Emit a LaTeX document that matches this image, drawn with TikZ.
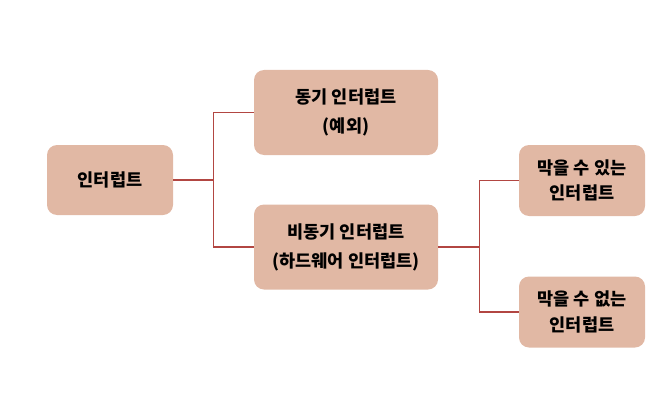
\documentclass[tikz,border=0pt]{standalone}
\usepackage{fontspec}
\setmainfont{Noto Sans CJK KR}
\usetikzlibrary{positioning}
\definecolor{boxfill}{RGB}{225,184,164}
\definecolor{linkred}{RGB}{178,70,66}

\begin{document}
\begin{tikzpicture}[x=1pt, y=1pt,
        box/.style={rectangle, rounded corners=10pt, fill=boxfill, align=center,
                    font=\fontsize{17.5}{29}\selectfont\bfseries},
        mid/.style={box, minimum width=184pt, minimum height=85pt},
        leaf/.style={box, minimum width=126pt, minimum height=71pt,
                     font=\fontsize{17.5}{25.5}\selectfont\bfseries},
        link/.style={draw=linkred, line width=1.1pt}]
      \useasboundingbox (0,0) rectangle (660,405);
      \node[box, minimum width=126pt, minimum height=70pt] (intr) at (110,225) {인터럽트};
      \node[mid] (sync) at (346,292.5) {동기 인터럽트\\(예외)};
      \node[mid] (async) at (346,158) {비동기 인터럽트\\(하드웨어 인터럽트)};
      \node[leaf] (mask) at (582,224.5) {막을 수 있는\\인터럽트};
      \node[leaf] (nomask) at (582,93) {막을 수 없는\\인터럽트};
      \draw[link] (intr.east) -- ++(40,0) coordinate (j1) |- (sync.west);
      \draw[link] (j1) |- (async.west);
      \draw[link] (async.east) -- ++(41,0) coordinate (j2) |- (mask.west);
      \draw[link] (j2) |- (nomask.west);
    \end{tikzpicture}
\end{document}
